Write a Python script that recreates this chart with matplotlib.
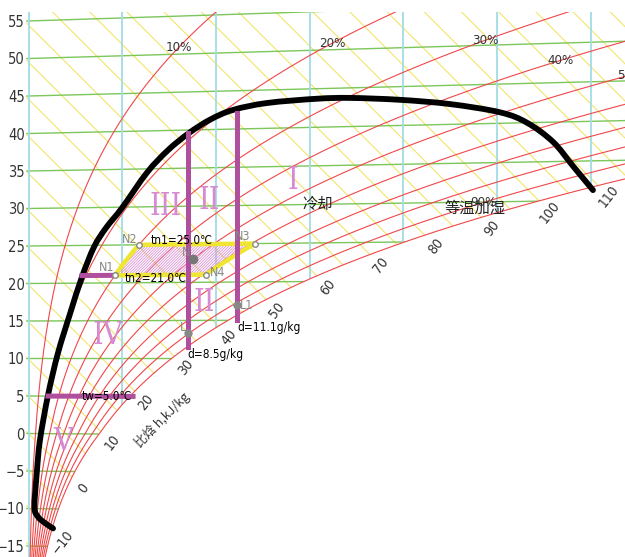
import numpy as np
import matplotlib
matplotlib.use("Agg")
import matplotlib.pyplot as plt
from matplotlib.patches import Polygon, PathPatch
from matplotlib.path import Path
from matplotlib import font_manager
from matplotlib.font_manager import FontProperties

# ---- grid values of the h-d chart
y_ticks = [55, 50, 45, 40, 35, 30, 25, 20, 15, 10, 5, 0, -5, -10, -15]
d_grid = [0, 5, 10, 15, 20, 25, 30]              # g/kg
t_grid = list(range(-15, 60, 5))                 # degC
h_grid = list(range(-30, 160, 5))                # kJ/kg
rh_grid = [0.1, 0.2, 0.3, 0.4, 0.5, 0.6, 0.7, 0.8, 0.9, 1.0]

rh_label_text = ["10%", "20%", "30%", "40%", "50%", "90%"]
rh_label_val = [0.1, 0.2, 0.3, 0.4, 0.5, 0.9]
rh_label_d = [8.0, 16.2, 24.4, 28.4, 32.1, 24.3]

h_labels = [-10, 0, 10, 20, 30, 40, 50, 60, 70, 80, 90, 100, 110]

# ---- outdoor climate envelope (d g/kg, t degC)
env_d = [1.31, 0.88, 0.51, 0.32, 0.44, 0.61, 1.04, 1.57, 2.21, 2.85, 3.50, 4.14,
         4.99, 6.32, 7.44, 8.56, 9.69, 10.91, 12.73, 15.4, 17.16, 19.82, 22.49,
         25.16, 26.6, 27.99, 29.05, 30.12]
env_t = [-12.6, -11.9, -11.1, -9.8, -5.3, -0.9, 5.1, 10.7, 15.9, 20.8, 24.8, 27.3,
         29.9, 34.5, 37.4, 39.6, 41.3, 42.5, 43.3, 43.7, 43.7, 43.3, 42.6, 41.4,
         40.0, 37.5, 34.4, 31.3]

# ---- comfort zone and process points
tn1, tn2 = 25.0, 21.0
rh_lo, rh_hi = 0.30, 0.61
N_pt = (8.8, 23.0)
L_pt = (8.5, 13.3)
L1_pt = (11.1, 17.0)
dL, dL_t = 8.5, (11.5, 39.6)
dL1, dL1_t = 11.1, (15.0, 42.1)
tw, tw_d = 5.0, (1.04, 5.58)
n1_d = (2.85, 4.61)

# ---- psychrometrics
P = 101.325


def psat(t):
    t = np.asarray(t, dtype=float)
    return np.where(t >= 0, 0.61078 * np.exp(17.27 * t / (t + 237.3)),
                    0.61078 * np.exp(21.875 * t / (t + 265.5)))


def d_of(t, phi):
    pv = phi * psat(t)
    return 622 * pv / (P - pv)


def Y_of(t, d):
    # oblique chart ordinate (equals t on the d = 0 axis)
    return t + np.asarray(d) * (0.00184 * np.asarray(t) - 0.019) / 1.01


def Y_h(h, d):
    return (h - 2.52 * np.asarray(d)) / 1.01


def pick_font(cands, fallback):
    for name, stretch in cands:
        for f in font_manager.fontManager.ttflist:
            if f.name == name and f.stretch == stretch and f.style == "normal" \
                    and f.weight in (400, "normal", "regular"):
                return FontProperties(fname=f.fname)
    return FontProperties(family=fallback)


def fp(base, size):
    p = base.copy()
    p.set_size(size)
    return p


narrow = pick_font([("Liberation Sans Narrow", "condensed"),
                    ("DejaVu Sans", "condensed"),
                    ("DejaVu Sans", "semi-condensed")], "DejaVu Sans")
serif = pick_font([("DejaVu Serif", "condensed"),
                   ("Liberation Serif", "normal")], "DejaVu Serif")
cjk = ["Noto Sans CJK SC", "DejaVu Sans"]

fig = plt.figure(figsize=(6.25, 5.57), dpi=100)
x0 = 26
ax = fig.add_axes([x0 / 625, 0, 1 - x0 / 625, 1])
ax.set_xlim((x0 - 28.5) / 18.74, (625 - 28.5) / 18.74)
ax.set_ylim((433.5 - 557) / 7.5, 433.5 / 7.5)
for s in ax.spines.values():
    s.set_visible(False)
ax.set_xticks([])
ax.set_yticks(y_ticks)
ax.set_yticklabels([str(v).replace("-", "\u2212") for v in y_ticks],
                   fontproperties=fp(narrow, 10.5), color="#333333")
ax.tick_params(axis="y", length=0, pad=1)

Y_top = 56.2
ts = np.linspace(-30, 40, 400)
ds = d_of(ts, 1.0)
Ys = Y_of(ts, ds)
verts = [(-0.12, Y_top), (60, Y_top)] + list(zip(ds[::-1], Ys[::-1])) + [(-0.12, Ys[0])]
region = Polygon(verts, closed=True, fc="none", ec="none", transform=ax.transData)
ax.add_patch(region)

dd = np.linspace(-0.2, 45, 300)
for h in h_grid:
    ln, = ax.plot(dd, Y_h(h, dd), color="#f2e56a", lw=0.8, zorder=1)
    ln.set_clip_path(region)
for t in t_grid:
    ln, = ax.plot(dd, Y_of(t, dd), color="#7cc65a", lw=1.0, zorder=2)
    ln.set_clip_path(region)
for d in d_grid:
    yy = np.linspace(-20, 60, 50)
    ln, = ax.plot(np.full_like(yy, d), yy, color="#a3dce6", lw=1.3, zorder=2)
    ln.set_clip_path(region)
tt = np.linspace(-30, 70, 600)
for phi in rh_grid:
    dphi = d_of(tt, phi)
    yphi = Y_of(tt, dphi)
    if phi < 1.0:
        ln, = ax.plot(dphi, yphi, color="#f0474a", lw=0.8, zorder=3)
        ln.set_clip_path(region)
    else:
        m = yphi <= Y_top
        ax.plot(dphi[m], yphi[m], color="#f0474a", lw=0.8, zorder=3)

# RH labels
tcur = np.linspace(-20, 70, 2000)
for txt, phi, d in zip(rh_label_text, rh_label_val, rh_label_d):
    dc = d_of(tcur, phi)
    tl = np.interp(d, dc, tcur)
    ax.text(d, Y_of(tl, d), txt, fontproperties=fp(narrow, 9.5), color="#333333",
            ha="center", va="center", zorder=6)

# enthalpy labels along saturation curve
hs = 1.01 * ts + ds * (2.501 + 0.00184 * ts)
for h in h_labels:
    th = np.interp(h, hs, ts)
    dh = d_of(th, 1.0)
    ax.annotate(str(h).replace("-", "\u2212"), (dh, Y_of(th, dh)), xytext=(8, -8),
                textcoords="offset points", rotation=52, ha="center", va="center",
                fontproperties=fp(narrow, 10), color="#333333", rotation_mode="anchor")
ax.text(7.12, 1.8, "比焓 h,kJ/kg", rotation=45, fontsize=9, family=cjk,
        ha="center", va="center", color="#333333")

# climate envelope, drawn as a smooth curve through the points
px = np.array(env_d)
py = Y_of(np.array(env_t), px)
pts = np.column_stack([px, py])
ext = np.vstack([2 * pts[0] - pts[1], pts, 2 * pts[-1] - pts[-2]])
verts_c = [tuple(pts[0])]
codes = [Path.MOVETO]
for i in range(1, len(ext) - 2):
    p0, p1, p2, p3 = ext[i - 1], ext[i], ext[i + 1], ext[i + 2]
    verts_c += [tuple(p1 + (p2 - p0) / 6), tuple(p2 - (p3 - p1) / 6), tuple(p2)]
    codes += [Path.CURVE4] * 3
ax.add_patch(PathPatch(Path(verts_c, codes), fc="none", ec="black", lw=4.2,
                       capstyle="round", joinstyle="round", zorder=8))

# comfort zone
purple = "#b04f9e"
zt = np.linspace(tn2, tn1, 20)
left_d = d_of(zt, rh_lo)
right_d = d_of(zt[::-1], rh_hi)
zone_d = np.concatenate([left_d, right_d])
zone_t = np.concatenate([zt, zt[::-1]])
zone = list(zip(zone_d, Y_of(zone_t, zone_d)))
plt.rcParams["hatch.linewidth"] = 0.6
ax.add_patch(Polygon(zone, closed=True, fill=False, hatch="/" * 12,
                     ec="#da92d4", lw=0, zorder=5))
ax.add_patch(Polygon(zone, closed=True, fill=False, ec="#efe634", lw=3.2,
                     joinstyle="round", zorder=7))

# process lines
for d, (ta, tb) in [(dL, dL_t), (dL1, dL1_t)]:
    tv = np.array([ta, tb])
    ax.plot([d, d], Y_of(tv, d), color=purple, lw=3.6, zorder=9)
for t, (da, db) in [(tw, tw_d), (tn2, n1_d)]:
    dv = np.array([da, db])
    ax.plot(dv, Y_of(t, dv), color=purple, lw=3.6, zorder=9)

# points
gray = "#888888"
ax.plot(N_pt[0], Y_of(N_pt[1], N_pt[0]), "o", color="#777777", ms=6, zorder=10)
for p in (L_pt, L1_pt):
    ax.plot(p[0], Y_of(p[1], p[0]), "o", color=gray, ms=5, zorder=10)
corner_t = [tn2, tn1, tn1, tn2]
corner_d = [d_of(tn2, rh_lo), d_of(tn1, rh_lo), d_of(tn1, rh_hi), d_of(tn2, rh_hi)]
for d, t in zip(corner_d, corner_t):
    ax.plot(d, Y_of(t, d), "o", mfc="white", mec=gray, ms=4, mew=1, zorder=10)

for txt, (x, y) in [("N", (8.4, 24.2)), ("N1", (4.19, 22.07)), ("N2", (5.42, 25.93)),
                    ("N3", (11.45, 26.2)), ("N4", (10.11, 21.4)), ("L", (8.24, 14.07)),
                    ("L1", (11.66, 17.13))]:
    ax.text(x, y, txt, fontproperties=fp(narrow, 9), color=gray, ha="center",
            va="center", zorder=11)

tk = dict(fontproperties=fp(narrow, 8.5), color="black", zorder=11, va="center")
ax.text(8.19, 25.67, "tn1=25.0\u2103", ha="center", **tk)
ax.text(6.80, 20.6, "tn2=21.0\u2103", ha="center", **tk)
ax.text(8.46, 10.47, "d=8.5g/kg", ha="left", **tk)
ax.text(11.13, 14.2, "d=11.1g/kg", ha="left", **tk)
ax.text(4.19, 5.0, "tw=5.0\u2103", ha="center", **tk)

ax.text(15.45, 30.6, "冷却", fontsize=11, family=cjk, ha="center", va="center",
        color="#222222", zorder=6)
ax.text(23.83, 30.07, "等温加湿", fontsize=11, family=cjk, ha="center", va="center",
        color="#222222", zorder=5)

# zone numerals
for txt, (x, y) in [("I", (14.11, 33.8)), ("II", (9.63, 31.1)), ("III", (7.34, 30.3)),
                    ("II", (9.37, 17.5)), ("IV", (4.24, 13.1)), ("V", (1.84, -1.13))]:
    ax.text(x, y, txt, fontproperties=fp(serif, 22), color="#d58ad2",
            ha="center", va="center", zorder=6)

fig.savefig("out.png", dpi=100)
